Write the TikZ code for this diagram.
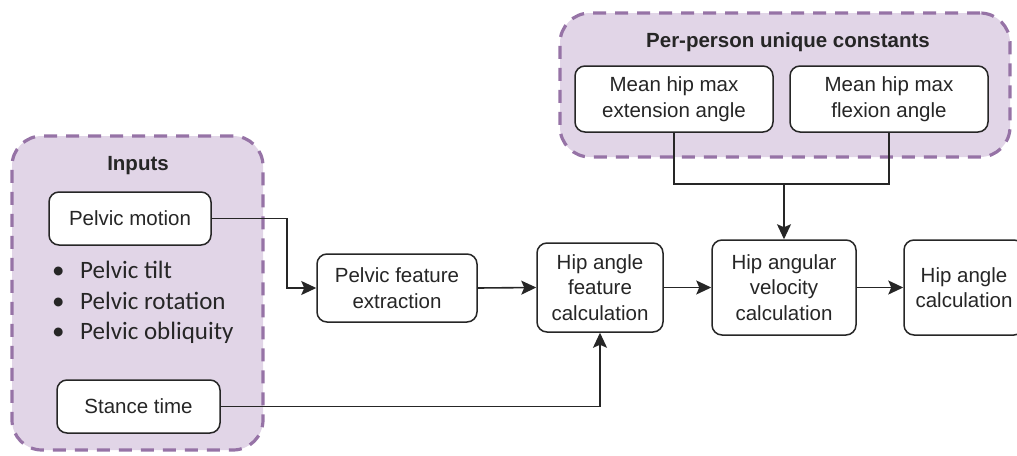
\documentclass[tikz,border=0pt]{standalone}
\usepackage{fontspec}
\setmainfont{Liberation Sans}
\newfontfamily\calfont{Carlito}
\usetikzlibrary{arrows.meta}
\definecolor{grpfill}{HTML}{E1D5E7}
\definecolor{grpline}{HTML}{9673A6}
\definecolor{ink}{HTML}{262626}
\tikzset{
  group/.style={draw=grpline, fill=grpfill, line width=3.2pt,
    dash pattern=on 13pt off 9pt, rounded corners=30pt, inner sep=0pt},
  procbox/.style={draw=ink, fill=white, line width=1.5pt, rounded corners=10pt,
    align=center, inner sep=0pt, font=\fontsize{20.5}{25.5}\selectfont, text=ink},
  title/.style={font=\fontsize{20.5}{24}\selectfont\bfseries, text=ink, inner sep=0pt},
  bullet/.style={font=\calfont\fontsize{25}{30}\selectfont, text=ink, inner sep=0pt,
    anchor=west, text height=0.7em, text depth=0.2em},
  link/.style={draw=ink, line width=1.6pt, rounded corners=0pt},
  flow/.style={link, arrows={-{Stealth[length=15pt, width=14pt, inset=3pt]}}},
}
\begin{document}
\begin{tikzpicture}[x=1pt, y=-1pt]
\useasboundingbox (0,0) rectangle (1017,455);
\clip (0,0) rectangle (1017,455);

% group panels
\node[group, minimum width=251pt, minimum height=314pt] (inputs) at (137.5,293) {};
\node[group, minimum width=450pt, minimum height=144pt] (consts) at (785,85) {};
\node[title] (inputsT) at (138,166) {Inputs};
\node[title] (constsT) at (788,42) {Per-person unique constants};

% inputs
\node[procbox, minimum width=162pt, minimum height=53pt] (pm) at (130,218.5) {Pelvic motion};
\node[procbox, minimum width=163pt, minimum height=53pt] (st) at (138.5,406.5) {Stance time};
\node[bullet] (b1) at (52,276) {\makebox[28pt][l]{•}Pelvic tilt};
\node[bullet] (b2) at (52,307) {\makebox[28pt][l]{•}Pelvic rotation};
\node[bullet] (b3) at (52,337) {\makebox[28pt][l]{•}Pelvic obliquity};

% constants
\node[procbox, minimum width=198pt, minimum height=66pt] (ext) at (674,99) {Mean hip max\\extension angle};
\node[procbox, minimum width=198pt, minimum height=66pt] (flex) at (889,99) {Mean hip max\\flexion angle};

% processing chain
\node[procbox, minimum width=160pt, minimum height=68pt] (pfe) at (397,288) {Pelvic feature\\extraction};
\node[procbox, minimum width=126pt, minimum height=89pt] (haf) at (600,287.5) {Hip angle\\feature\\calculation};
\node[procbox, minimum width=144pt, minimum height=95pt] (hav) at (784,287.5) {Hip angular\\velocity\\calculation};
\node[procbox, minimum width=120pt, minimum height=95pt] (hac) at (964,287.5) {Hip angle\\calculation};

% connectors
\coordinate (pmbend) at (287,218.5);
\coordinate (join) at (784,184);
\draw[flow] (pm.east) -- (pmbend) |- (pfe.west);
\draw[flow] (st.east) -| (haf.south);
\draw[flow] (pfe.east) -- (haf.west);
\draw[flow] (haf.east) -- (hav.west);
\draw[flow] (hav.east) -- (hac.west);
\draw[link] (ext.south) |- (join) -| (flex.south);
\draw[flow] (join) -- (hav.north);
\end{tikzpicture}
\end{document}
